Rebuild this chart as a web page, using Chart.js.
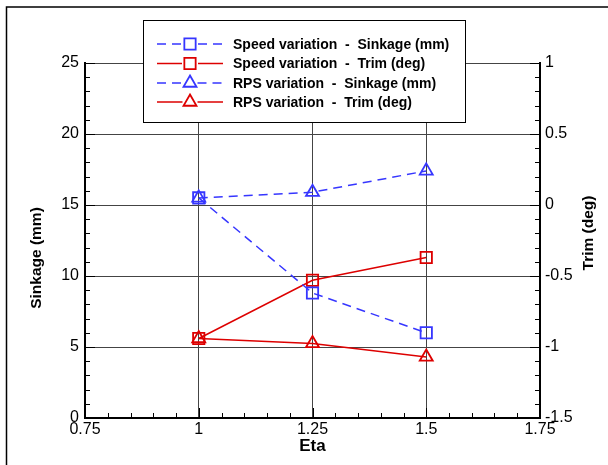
<!DOCTYPE html>
<html><head><meta charset="utf-8">
<script src="https://cdn.jsdelivr.net/npm/chart.js@4"></script>
<style>html,body{margin:0;padding:0;background:#fff}canvas{display:block}</style>
</head><body>
<canvas id="c" width="608" height="465"></canvas>
<script>
// ---- data ----
const eta = [1, 1.25, 1.5];
const speedSinkage = [15.5, 8.8, 6.0];
const speedTrim = [-0.94, -0.53, -0.37];
const rpsSinkage = [15.5, 15.9, 17.4];
const rpsTrim = [-0.94, -0.975, -1.07];
const seriesLabels = [
  'Speed variation  -  Sinkage (mm)',
  'Speed variation  -  Trim (deg)',
  'RPS variation  -  Sinkage (mm)',
  'RPS variation  -  Trim (deg)'
];
const xTicks = [0.75, 1, 1.25, 1.5, 1.75];
const sinkTicks = [0, 5, 10, 15, 20, 25];
const trimTicks = [-1.5, -1, -0.5, 0, 0.5, 1];
const xMinorStep = 0.05, sinkMinorStep = 1, trimMinorStep = 0.1;
const xTitle = 'Eta', sinkTitle = 'Sinkage (mm)', trimTitle = 'Trim (deg)';

const BLUE = '#3636ff', RED = '#dd0000';
const pts = arr => eta.map((x, i) => ({x, y: arr[i]}));

const FONT = '"Liberation Sans", Arial, sans-serif';

const innerTicks = {
  id: 'innerTicks',
  afterDatasetsDraw(chart) {
    const {ctx, chartArea: a, scales} = chart;
    ctx.save();
    ctx.strokeStyle = '#000'; ctx.lineWidth = 1;
    const line = (x1, y1, x2, y2) => { ctx.beginPath(); ctx.moveTo(x1, y1); ctx.lineTo(x2, y2); ctx.stroke(); };
    const minors = (min, max, step) => { const out = []; const n = Math.round((max - min) / step); for (let i = 0; i <= n; i++) out.push(min + i * step); return out; };
    const isMajor = (v, majors) => majors.some(m => Math.abs(m - v) < 1e-6);
    minors(xTicks[0], xTicks[xTicks.length - 1], xMinorStep).forEach(v => {
      const px = Math.round(scales.x.getPixelForValue(v)) + 0.5;
      line(px, a.bottom, px, a.bottom - (isMajor(v, xTicks) ? 10 : 5));
    });
    minors(sinkTicks[0], sinkTicks[sinkTicks.length - 1], sinkMinorStep).forEach(v => {
      const py = Math.round(scales.y.getPixelForValue(v)) + 0.5;
      line(a.left, py, a.left + (isMajor(v, sinkTicks) ? 10 : 5), py);
    });
    minors(trimTicks[0], trimTicks[trimTicks.length - 1], trimMinorStep).forEach(v => {
      const py = Math.round(scales.y1.getPixelForValue(v)) + 0.5;
      line(a.right, py, a.right - (isMajor(v, trimTicks) ? 10 : 5), py);
    });
    ctx.restore();
  },
  afterDraw(chart) {
    const {ctx, chartArea: a} = chart;
    ctx.save();
    // outer frame
    ctx.strokeStyle = '#000'; ctx.lineWidth = 1.5;
    ctx.beginPath(); ctx.moveTo(6.5, 465); ctx.lineTo(6.5, 7); ctx.lineTo(608, 7); ctx.stroke();
    // axis titles
    ctx.fillStyle = '#000';
    ctx.textAlign = 'center'; ctx.textBaseline = 'middle';
    ctx.font = 'bold 17px ' + FONT;
    ctx.fillText(xTitle, (a.left + a.right) / 2, 446);
    ctx.font = 'bold 15.5px ' + FONT;
    ctx.save(); ctx.translate(37, 258); ctx.rotate(-Math.PI / 2); ctx.fillText(sinkTitle, 0, 0); ctx.restore();
    ctx.save(); ctx.translate(589, 233); ctx.rotate(-Math.PI / 2); ctx.fillText(trimTitle, 0, 0); ctx.restore();
    // legend
    const bx = 143.5, by = 20.5, bw = 322, bh = 102;
    ctx.fillStyle = '#fff'; ctx.fillRect(bx, by, bw, bh);
    ctx.strokeStyle = '#000'; ctx.lineWidth = 1; ctx.strokeRect(bx, by, bw, bh);
    const rows = [44, 63.5, 83, 102];
    chart.data.datasets.forEach((ds, i) => {
      const y = rows[i], mx = 190, r = ds.pointRadius;
      ctx.strokeStyle = ds.borderColor; ctx.lineWidth = ds.borderWidth;
      ctx.setLineDash(ds.borderDash || []);
      ctx.beginPath(); ctx.moveTo(157, y); ctx.lineTo(mx - r, y); ctx.stroke();
      ctx.beginPath(); ctx.moveTo(mx + r, y); ctx.lineTo(223, y); ctx.stroke();
      ctx.setLineDash([]);
      ctx.lineWidth = ds.pointBorderWidth;
      ctx.fillStyle = 'rgba(0,0,0,0)';
      Chart.helpers.drawPoint(ctx, {pointStyle: ds.pointStyle, radius: r, borderWidth: ds.pointBorderWidth, rotation: 0}, mx, y);
      ctx.fillStyle = '#000';
      ctx.font = 'bold 14px ' + FONT;
      ctx.textAlign = 'left'; ctx.textBaseline = 'middle';
      ctx.fillText(ds.label, 233, y + 1);
    });
    ctx.restore();
  }
};

const mk = (label, data, axis, color, dash, style, r) => ({
  label, data, yAxisID: axis,
  borderColor: color, borderWidth: 1.5, borderDash: dash,
  pointStyle: style, pointRadius: r, pointBorderWidth: 1.8,
  pointBackgroundColor: 'rgba(0,0,0,0)', pointBorderColor: color,
  fill: false, tension: 0
});

const tickFont = {family: FONT, size: 16};
new Chart(document.getElementById('c'), {
  type: 'line',
  data: {
    datasets: [
      mk(seriesLabels[0], pts(speedSinkage), 'y', BLUE, [9, 6], 'rect', 8),
      mk(seriesLabels[1], pts(speedTrim), 'y1', RED, [], 'rect', 8),
      mk(seriesLabels[2], pts(rpsSinkage), 'y', BLUE, [9, 6], 'triangle', 7.5),
      mk(seriesLabels[3], pts(rpsTrim), 'y1', RED, [], 'triangle', 7.5)
    ]
  },
  options: {
    responsive: false, animation: false,
    layout: {padding: {top: 63, left: 0, right: 0, bottom: 0}},
    plugins: {legend: {display: false}, tooltip: {enabled: false}},
    elements: {line: {borderCapStyle: 'butt'}},
    scales: {
      x: {
        type: 'linear', min: xTicks[0], max: xTicks[xTicks.length - 1],
        afterBuildTicks: s => { s.ticks = xTicks.map(v => ({value: v})); },
        afterFit: s => { s.height = 47; },
        grid: {color: '#444', lineWidth: 1, drawTicks: false},
        border: {display: true, color: '#000', width: 2},
        ticks: {padding: 2, color: '#000', font: tickFont, maxRotation: 0, autoSkip: false, callback: v => String(v)}
      },
      y: {
        type: 'linear', position: 'left', min: sinkTicks[0], max: sinkTicks[sinkTicks.length - 1],
        afterBuildTicks: s => { s.ticks = sinkTicks.map(v => ({value: v})); },
        afterFit: s => { s.width = 85; },
        grid: {color: '#444', lineWidth: 1, drawTicks: false},
        border: {display: true, color: '#000', width: 2},
        ticks: {padding: 6, color: '#000', font: tickFont, autoSkip: false, callback: v => String(v)}
      },
      y1: {
        type: 'linear', position: 'right', min: trimTicks[0], max: trimTicks[trimTicks.length - 1],
        afterBuildTicks: s => { s.ticks = trimTicks.map(v => ({value: v})); },
        afterFit: s => { s.width = 68; },
        grid: {drawOnChartArea: false, drawTicks: false},
        border: {display: true, color: '#000', width: 2},
        ticks: {padding: 5, color: '#000', font: tickFont, autoSkip: false, callback: v => String(v)}
      }
    }
  },
  plugins: [innerTicks]
});
</script>
</body></html>
